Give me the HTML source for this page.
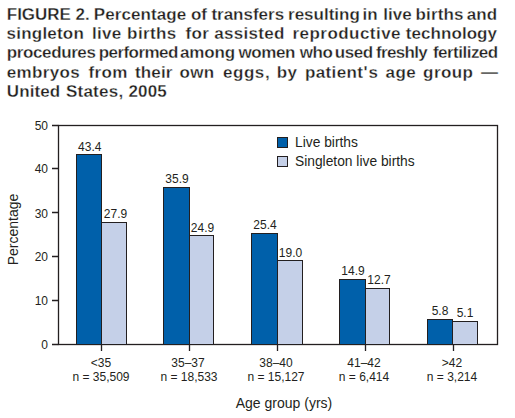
<!DOCTYPE html>
<html><head><meta charset="utf-8">
<style>
html,body{margin:0;padding:0;background:#fff;}
body{width:515px;height:418px;position:relative;overflow:hidden;font-family:"Liberation Sans",sans-serif;color:#231f20;}
svg{position:absolute;left:0;top:0;}
</style></head><body>
<svg width="515" height="418" viewBox="0 0 515 418" font-family="Liberation Sans" font-size="12" fill="#231f20">
<g font-weight="bold" font-size="17" stroke="#fff" stroke-width="0.3">
<text x="6.8" y="20" letter-spacing="-0.02">FIGURE</text>
<text x="75.4" y="20" letter-spacing="0.05">2.</text>
<text x="93.7" y="20" letter-spacing="0.1">Percentage</text>
<text x="190.9" y="20" letter-spacing="0.05">of</text>
<text x="211.4" y="20" letter-spacing="-0.0">transfers</text>
<text x="288.0" y="20" letter-spacing="0.01">resulting</text>
<text x="362.5" y="20" letter-spacing="0.05">in</text>
<text x="383.3" y="20" letter-spacing="0.05">live</text>
<text x="415.5" y="20" letter-spacing="0.16">births</text>
<text x="466.7" y="20" letter-spacing="0.05">and</text>
<text x="6.6" y="39" letter-spacing="0.21">singleton</text>
<text x="92.0" y="39" letter-spacing="0.28">live</text>
<text x="127.1" y="39" letter-spacing="0.4">births</text>
<text x="185.6" y="39" letter-spacing="0.28">for</text>
<text x="214.2" y="39" letter-spacing="0.31">assisted</text>
<text x="292.5" y="39" letter-spacing="0.46">reproductive</text>
<text x="405.8" y="39" letter-spacing="0.06">technology</text>
<text x="6.8" y="58" letter-spacing="-0.39">procedures</text>
<text x="98.7" y="58" letter-spacing="-0.55">performed</text>
<text x="180.1" y="58" letter-spacing="-0.18">among</text>
<text x="238.6" y="58" letter-spacing="-0.47">women</text>
<text x="299.8" y="58" letter-spacing="-0.43">who</text>
<text x="334.7" y="58" letter-spacing="-0.43">used</text>
<text x="376.1" y="58" letter-spacing="-0.68">freshly</text>
<text x="432.9" y="58" letter-spacing="-0.51">fertilized</text>
<text x="6.8" y="77.5" letter-spacing="0.35">embryos</text>
<text x="88.4" y="77.5" letter-spacing="0.38">from</text>
<text x="135.0" y="77.5" letter-spacing="0.13">their</text>
<text x="179.5" y="77.5" letter-spacing="0.38">own</text>
<text x="223.0" y="77.5" letter-spacing="0.55">eggs,</text>
<text x="276.7" y="77.5" letter-spacing="0.38">by</text>
<text x="305.1" y="77.5" letter-spacing="0.34">patient<tspan dx="0.4">'</tspan><tspan dx="0.6">s</tspan></text>
<text x="385.6" y="77.5" letter-spacing="0.38">age</text>
<text x="423.1" y="77.5" letter-spacing="0.4">group</text>
<text x="480.9" y="77.5" letter-spacing="0.38">—</text>
<text x="6.8" y="97" letter-spacing="0.1">United</text>
<text x="65.9" y="97" letter-spacing="0.25">States,</text>
<text x="128.4" y="97" letter-spacing="0.2">2005</text>
</g>
<g stroke="#231f20" stroke-width="1.3" fill="none">
<rect x="58.5" y="125.5" width="439" height="219"/>
<path d="M52 125.5H58.5M52 168.5H58.5M52 212.5H58.5M52 256.5H58.5M52 300.5H58.5M52 344.5H58.5"/>
<path d="M101.5 344.5V351M189.5 344.5V351M277.5 344.5V351M365.5 344.5V351M453.5 344.5V351"/>
</g>
<g text-anchor="end">
<text x="48" y="130">50</text>
<text x="48" y="173">40</text>
<text x="48" y="218">30</text>
<text x="48" y="261">20</text>
<text x="48" y="305">10</text>
<text x="48" y="349">0</text>
</g>
<g stroke="#231f20" stroke-width="1">
<rect x="76.5" y="154.5" width="25.0" height="190.0" fill="#0060aa"/>
<rect x="101.5" y="222.5" width="25.0" height="122.0" fill="#c5d0e8"/>
<rect x="163.5" y="187.5" width="26.0" height="157.0" fill="#0060aa"/>
<rect x="189.5" y="235.5" width="24.0" height="109.0" fill="#c5d0e8"/>
<rect x="251.5" y="233.5" width="26.0" height="111.0" fill="#0060aa"/>
<rect x="277.5" y="260.5" width="25.0" height="84.0" fill="#c5d0e8"/>
<rect x="339.5" y="279.5" width="26.0" height="65.0" fill="#0060aa"/>
<rect x="365.5" y="288.5" width="24.0" height="56.0" fill="#c5d0e8"/>
<rect x="427.5" y="319.5" width="25.0" height="25.0" fill="#0060aa"/>
<rect x="452.5" y="321.5" width="25.0" height="23.0" fill="#c5d0e8"/>
<rect x="277.5" y="137.5" width="10" height="10" fill="#0060aa"/>
<rect x="277.5" y="156.5" width="10" height="10" fill="#c5d0e8"/>
</g>
<g text-anchor="middle">
<text x="89.8" y="151">43.4</text>
<text x="115.5" y="218">27.9</text>
<text x="177" y="183">35.9</text>
<text x="202.5" y="232">24.9</text>
<text x="265" y="229">25.4</text>
<text x="290.5" y="257">19.0</text>
<text x="353" y="275">14.9</text>
<text x="379" y="284">12.7</text>
<text x="440" y="315">5.8</text>
<text x="465" y="317">5.1</text>
<text x="101" y="367">&lt;35</text>
<text x="101" y="381">n = 35,509</text>
<text x="188" y="367">35–37</text>
<text x="189" y="381">n = 18,533</text>
<text x="276" y="367">38–40</text>
<text x="276" y="381">n = 15,127</text>
<text x="364" y="367">41–42</text>
<text x="364" y="381">n = 6,414</text>
<text x="452" y="367">&gt;42</text>
<text x="452" y="381">n = 3,214</text>
<text x="284" y="408" font-size="14">Age group (yrs)</text>
</g>
<text x="295" y="147.3" font-size="13.8">Live births</text>
<text x="295" y="166.3" font-size="13.8">Singleton live births</text>
<text transform="translate(17.5,229.5) rotate(-90)" text-anchor="middle" font-size="14">Percentage</text>
</svg>
</body></html>
